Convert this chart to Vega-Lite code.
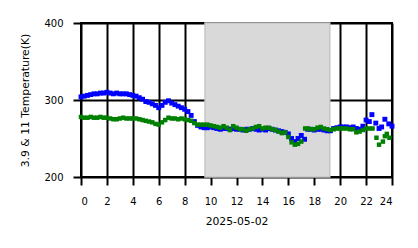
{
  "$schema": "https://vega.github.io/schema/vega-lite/v6.json",
  "width": 311,
  "height": 154,
  "autosize": "none",
  "padding": {"left": 81, "top": 23, "right": 26, "bottom": 71},
  "background": "white",
  "config": {
    "view": {"stroke": "black", "strokeWidth": 2},
    "axis": {
      "labelFont": "DejaVu Sans",
      "labelFontSize": 10,
      "labelColor": "black",
      "labelOverlap": false,
      "titleFont": "DejaVu Sans",
      "titleFontSize": 10.8,
      "titleFontWeight": "normal",
      "titleColor": "black",
      "tickColor": "black",
      "tickWidth": 2,
      "tickSize": 8,
      "gridColor": "black",
      "gridWidth": 2,
      "gridOpacity": 1,
      "domain": false,
      "zindex": 1
    }
  },
  "data": {"values": [
      {"s":"shade","h":9.57,"h2":19.2},
      {"s":"b","h":0,"t":304},{"s":"b","h":0.25,"t":305},{"s":"b","h":0.5,"t":306},{"s":"b","h":0.75,"t":307},{"s":"b","h":1,"t":308},{"s":"b","h":1.25,"t":308},{"s":"b","h":1.5,"t":309},{"s":"b","h":1.75,"t":309},
      {"s":"b","h":2,"t":310},{"s":"b","h":2.25,"t":309},{"s":"b","h":2.5,"t":308},{"s":"b","h":2.75,"t":309},{"s":"b","h":3,"t":308},{"s":"b","h":3.25,"t":308},{"s":"b","h":3.5,"t":308},{"s":"b","h":3.75,"t":307},
      {"s":"b","h":4,"t":306},{"s":"b","h":4.25,"t":305},{"s":"b","h":4.5,"t":303},{"s":"b","h":4.75,"t":301},{"s":"b","h":5,"t":298},{"s":"b","h":5.25,"t":297},{"s":"b","h":5.5,"t":295},{"s":"b","h":5.75,"t":293},
      {"s":"b","h":6,"t":290},{"s":"b","h":6.25,"t":293},{"s":"b","h":6.5,"t":297},{"s":"b","h":6.75,"t":299},{"s":"b","h":7,"t":296},{"s":"b","h":7.25,"t":294},{"s":"b","h":7.5,"t":292},{"s":"b","h":7.75,"t":290},
      {"s":"b","h":8,"t":288},{"s":"b","h":8.25,"t":285},{"s":"b","h":8.5,"t":280},{"s":"b","h":8.75,"t":272},{"s":"b","h":9,"t":267},{"s":"b","h":9.25,"t":265},{"s":"b","h":9.5,"t":264},{"s":"b","h":9.75,"t":264},
      {"s":"b","h":10,"t":265},{"s":"b","h":10.25,"t":264},{"s":"b","h":10.5,"t":263},{"s":"b","h":10.75,"t":262},{"s":"b","h":11,"t":263},{"s":"b","h":11.25,"t":263},{"s":"b","h":11.5,"t":262},{"s":"b","h":11.75,"t":263},
      {"s":"b","h":12,"t":262},{"s":"b","h":12.25,"t":262},{"s":"b","h":12.5,"t":261},{"s":"b","h":12.75,"t":262},{"s":"b","h":13,"t":262},{"s":"b","h":13.25,"t":263},{"s":"b","h":13.5,"t":262},{"s":"b","h":13.75,"t":261},
      {"s":"b","h":14,"t":262},{"s":"b","h":14.25,"t":261},{"s":"b","h":14.5,"t":263},{"s":"b","h":14.75,"t":262},{"s":"b","h":15,"t":261},{"s":"b","h":15.25,"t":260},{"s":"b","h":15.5,"t":259},{"s":"b","h":15.75,"t":258},
      {"s":"b","h":16,"t":256},{"s":"b","h":16.25,"t":250},{"s":"b","h":16.5,"t":246},{"s":"b","h":16.75,"t":250},{"s":"b","h":17,"t":254},{"s":"b","h":17.25,"t":249},{"s":"b","h":17.5,"t":262},{"s":"b","h":17.75,"t":262},
      {"s":"b","h":18,"t":261},{"s":"b","h":18.25,"t":262},{"s":"b","h":18.5,"t":262},{"s":"b","h":18.75,"t":261},{"s":"b","h":19,"t":260},{"s":"b","h":19.25,"t":260},{"s":"b","h":19.5,"t":263},{"s":"b","h":19.75,"t":264},
      {"s":"b","h":20,"t":265},{"s":"b","h":20.25,"t":265},{"s":"b","h":20.5,"t":265},{"s":"b","h":20.75,"t":264},{"s":"b","h":21,"t":265},{"s":"b","h":21.25,"t":263},{"s":"b","h":21.5,"t":262},{"s":"b","h":21.75,"t":266},
      {"s":"b","h":22,"t":274},{"s":"b","h":22.25,"t":272},{"s":"b","h":22.45,"t":281},{"s":"b","h":22.75,"t":270},{"s":"b","h":23,"t":263},{"s":"b","h":23.2,"t":265},{"s":"b","h":23.45,"t":275},{"s":"b","h":23.75,"t":269},{"s":"b","h":24,"t":266},
      {"s":"g","h":0,"t":278},{"s":"g","h":0.25,"t":277},{"s":"g","h":0.5,"t":277},{"s":"g","h":0.75,"t":278},{"s":"g","h":1,"t":277},{"s":"g","h":1.25,"t":277},{"s":"g","h":1.5,"t":278},{"s":"g","h":1.75,"t":277},
      {"s":"g","h":2,"t":277},{"s":"g","h":2.25,"t":276},{"s":"g","h":2.5,"t":275},{"s":"g","h":2.75,"t":275},{"s":"g","h":3,"t":276},{"s":"g","h":3.25,"t":277},{"s":"g","h":3.5,"t":276},{"s":"g","h":3.75,"t":276},
      {"s":"g","h":4,"t":276},{"s":"g","h":4.25,"t":276},{"s":"g","h":4.5,"t":275},{"s":"g","h":4.75,"t":274},{"s":"g","h":5,"t":273},{"s":"g","h":5.25,"t":272},{"s":"g","h":5.5,"t":271},{"s":"g","h":5.75,"t":269},
      {"s":"g","h":6,"t":268},{"s":"g","h":6.25,"t":271},{"s":"g","h":6.5,"t":274},{"s":"g","h":6.75,"t":277},{"s":"g","h":7,"t":276},{"s":"g","h":7.25,"t":276},{"s":"g","h":7.5,"t":275},{"s":"g","h":7.75,"t":276},
      {"s":"g","h":8,"t":275},{"s":"g","h":8.25,"t":274},{"s":"g","h":8.5,"t":273},{"s":"g","h":8.75,"t":270},{"s":"g","h":9,"t":268},{"s":"g","h":9.25,"t":268},{"s":"g","h":9.5,"t":268},{"s":"g","h":9.75,"t":268},
      {"s":"g","h":10,"t":267},{"s":"g","h":10.25,"t":266},{"s":"g","h":10.5,"t":265},{"s":"g","h":10.75,"t":264},{"s":"g","h":11,"t":266},{"s":"g","h":11.25,"t":264},{"s":"g","h":11.5,"t":261},{"s":"g","h":11.75,"t":266},
      {"s":"g","h":12,"t":264},{"s":"g","h":12.25,"t":262},{"s":"g","h":12.5,"t":262},{"s":"g","h":12.75,"t":260},{"s":"g","h":13,"t":262},{"s":"g","h":13.25,"t":263},{"s":"g","h":13.5,"t":265},{"s":"g","h":13.75,"t":266},
      {"s":"g","h":14,"t":263},{"s":"g","h":14.25,"t":264},{"s":"g","h":14.5,"t":264},{"s":"g","h":14.75,"t":262},{"s":"g","h":15,"t":261},{"s":"g","h":15.25,"t":259},{"s":"g","h":15.5,"t":257},{"s":"g","h":15.75,"t":258},
      {"s":"g","h":16,"t":252},{"s":"g","h":16.25,"t":245},{"s":"g","h":16.5,"t":242},{"s":"g","h":16.75,"t":243},{"s":"g","h":17,"t":246},{"s":"g","h":17.3,"t":263},{"s":"g","h":17.5,"t":263},{"s":"g","h":17.75,"t":262},
      {"s":"g","h":18,"t":262},{"s":"g","h":18.25,"t":264},{"s":"g","h":18.5,"t":265},{"s":"g","h":18.75,"t":263},{"s":"g","h":19,"t":262},{"s":"g","h":19.25,"t":261},{"s":"g","h":19.5,"t":262},{"s":"g","h":19.75,"t":263},
      {"s":"g","h":20,"t":263},{"s":"g","h":20.25,"t":263},{"s":"g","h":20.5,"t":263},{"s":"g","h":20.75,"t":262},{"s":"g","h":21,"t":262},{"s":"g","h":21.25,"t":258},{"s":"g","h":21.5,"t":259},{"s":"g","h":21.75,"t":261},
      {"s":"g","h":22,"t":263},{"s":"g","h":22.25,"t":263},{"s":"g","h":22.5,"t":263},{"s":"g","h":22.8,"t":251},{"s":"g","h":23,"t":242},{"s":"g","h":23.3,"t":246},{"s":"g","h":23.45,"t":253},{"s":"g","h":23.6,"t":256},{"s":"g","h":23.8,"t":251}
  ]},
  "encoding": {
    "x": {"field": "h", "type": "quantitative", "scale": {"domain": [0, 24], "nice": false, "zero": false},
          "axis": {"values": [0,2,4,6,8,10,12,14,16,18,20,22,24], "tickCount": 13, "format": "d", "title": "2025-05-02", "labelPadding": 11, "titlePadding": 9, "labelAngle": 0}}
  },
  "layer": [
    {
      "transform": [{"filter": "datum.s === 'shade'"}],
      "mark": {"type": "rect", "fill": "#d9d9d9", "stroke": "#c6c6c6", "strokeWidth": 1.5},
      "encoding": {
        "x2": {"field": "h2"}
      }
    },
    {
      "transform": [{"filter": "datum.s === 'b'"}],
      "mark": {"type": "point", "shape": "square", "filled": true, "color": "#0000ff", "opacity": 1, "size": 24},
      "encoding": {
        "y": {"field": "t", "type": "quantitative", "scale": {"domain": [200, 400], "nice": false, "zero": false},
              "axis": {"values": [200, 300, 400], "title": "3.9 & 11 Temperature(K)", "labelPadding": 10, "titlePadding": 13}}
      }
    },
    {
      "transform": [{"filter": "datum.s === 'g'"}],
      "mark": {"type": "point", "shape": "square", "filled": true, "color": "#008000", "opacity": 1, "size": 20},
      "encoding": {
        "y": {"field": "t", "type": "quantitative"}
      }
    }
  ]
}
